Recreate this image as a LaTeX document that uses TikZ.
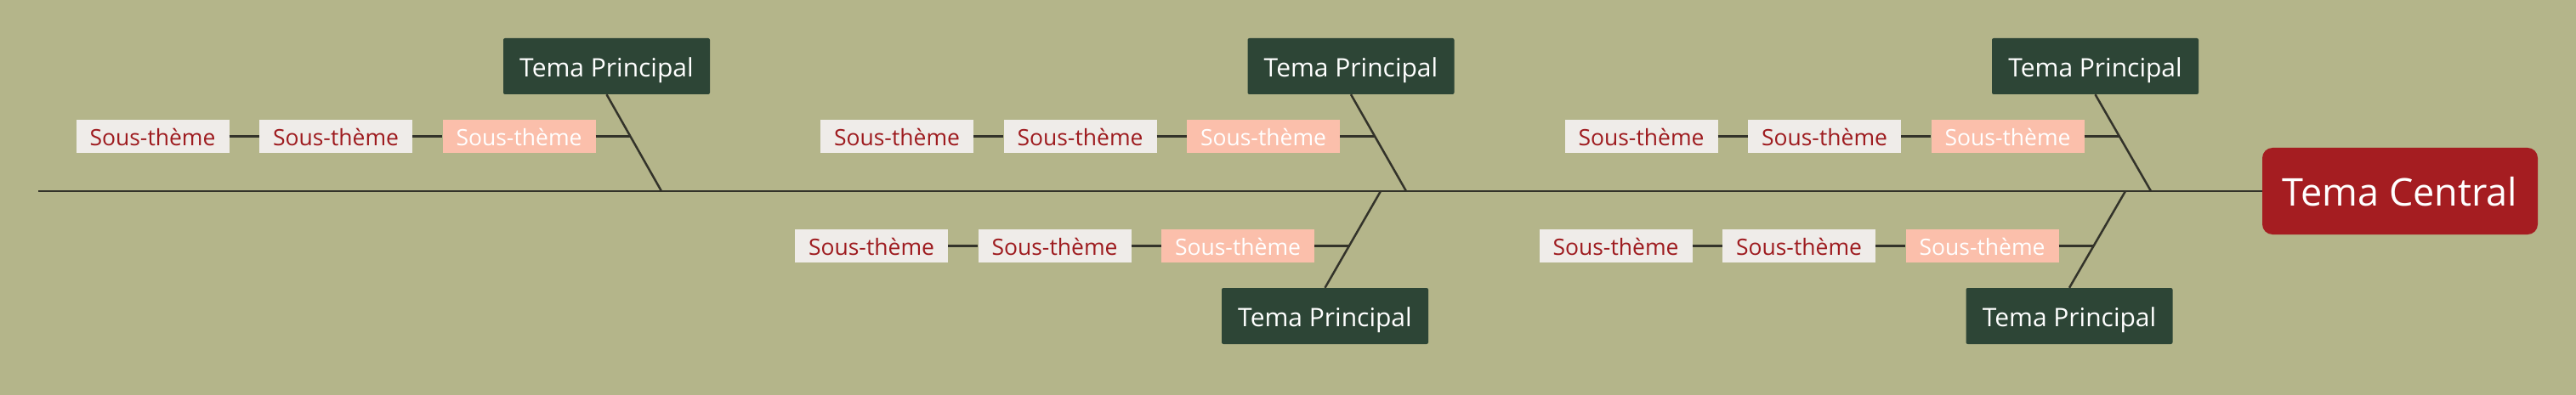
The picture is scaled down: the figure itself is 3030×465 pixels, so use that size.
\documentclass[tikz,border=0pt]{standalone}
\usepackage{fontspec}
\setmainfont{Open Sans}
\definecolor{bgc}{HTML}{B4B58A}
\definecolor{tpgreen}{HTML}{2D4536}
\definecolor{subgray}{HTML}{EFECE9}
\definecolor{subpink}{HTML}{FBBFAB}
\definecolor{subred}{HTML}{9E1B1F}
\definecolor{cred}{HTML}{A51D21}
\definecolor{linec}{HTML}{33332A}
\begin{document}
\begin{tikzpicture}[x=1pt,y=-1pt,
  mainbox/.style={fill=tpgreen, text=white, minimum width=243pt, minimum height=66pt, inner sep=0pt, rounded corners=2pt, font=\fontsize{30}{36}\selectfont, text height=24.4pt, text depth=0pt},
  subbox/.style={fill=subgray, text=subred, minimum width=180pt, minimum height=39pt, inner sep=0pt, font=\fontsize{26.5}{32}\selectfont, text height=21.9pt, text depth=0pt},
  subhi/.style={subbox, fill=subpink, text=white},
  centralbox/.style={fill=cred, text=white, minimum width=324pt, minimum height=102pt, inner sep=0pt, rounded corners=12pt, font=\fontsize{45}{54}\selectfont, text height=34.1pt, text depth=0pt},
  bone/.style={draw=linec, line width=2.5pt},
  link/.style={draw=linec, line width=3pt}
]
\fill[bgc] (0,0) rectangle (3030,465);
\useasboundingbox (0,0) rectangle (3030,465);

% central
\node[centralbox] (c) at (2823,225) {Tema Central};
\coordinate (s0) at (45,225);

% spine junctions
\coordinate (j1) at (778,225);
\coordinate (j2) at (1654,225);
\coordinate (j3) at (2530,225);
\coordinate (k2) at (1624,225);
\coordinate (k3) at (2500,225);

% top principal boxes
\node[mainbox] (t1) at (713.5,78) {Tema Principal};
\node[mainbox] (t2) at (1589,78) {Tema Principal};
\node[mainbox] (t3) at (2464.5,78) {Tema Principal};
% bottom principal boxes
\node[mainbox] (u2) at (1558.5,372) {Tema Principal};
\node[mainbox] (u3) at (2434,372) {Tema Principal};

% top sub rows
\node[subbox] (a11) at (179.5,160.5) {Sous-thème};
\node[subbox] (a12) at (395,160.5) {Sous-thème};
\node[subhi]  (a13) at (610.5,160.5) {Sous-thème};
\node[subbox] (a21) at (1055,160.5) {Sous-thème};
\node[subbox] (a22) at (1270.5,160.5) {Sous-thème};
\node[subhi]  (a23) at (1486,160.5) {Sous-thème};
\node[subbox] (a31) at (1930.5,160.5) {Sous-thème};
\node[subbox] (a32) at (2146,160.5) {Sous-thème};
\node[subhi]  (a33) at (2361.5,160.5) {Sous-thème};
% bottom sub rows
\node[subbox] (b21) at (1025,289.5) {Sous-thème};
\node[subbox] (b22) at (1240.5,289.5) {Sous-thème};
\node[subhi]  (b23) at (1456,289.5) {Sous-thème};
\node[subbox] (b31) at (1900.5,289.5) {Sous-thème};
\node[subbox] (b32) at (2116,289.5) {Sous-thème};
\node[subhi]  (b33) at (2331.5,289.5) {Sous-thème};

% bone attachment points for sub rows
\coordinate (p1) at (741.5,160.5);
\coordinate (p2) at (1617,160.5);
\coordinate (p3) at (2492.5,160.5);
\coordinate (q2) at (1588,289.5);
\coordinate (q3) at (2463,289.5);

% spine
\draw[bone] (s0) -- (c.west);
% bones
\draw[bone] (t1.south) -- (j1);
\draw[bone] (t2.south) -- (j2);
\draw[bone] (t3.south) -- (j3);
\draw[bone] (u2.north) -- (k2);
\draw[bone] (u3.north) -- (k3);

% sub links
\draw[link] (a11.east) -- (a12.west);
\draw[link] (a12.east) -- (a13.west);
\draw[link] (a13.east) -- (p1);
\draw[link] (a21.east) -- (a22.west);
\draw[link] (a22.east) -- (a23.west);
\draw[link] (a23.east) -- (p2);
\draw[link] (a31.east) -- (a32.west);
\draw[link] (a32.east) -- (a33.west);
\draw[link] (a33.east) -- (p3);
\draw[link] (b21.east) -- (b22.west);
\draw[link] (b22.east) -- (b23.west);
\draw[link] (b23.east) -- (q2);
\draw[link] (b31.east) -- (b32.west);
\draw[link] (b32.east) -- (b33.west);
\draw[link] (b33.east) -- (q3);
\end{tikzpicture}
\end{document}
